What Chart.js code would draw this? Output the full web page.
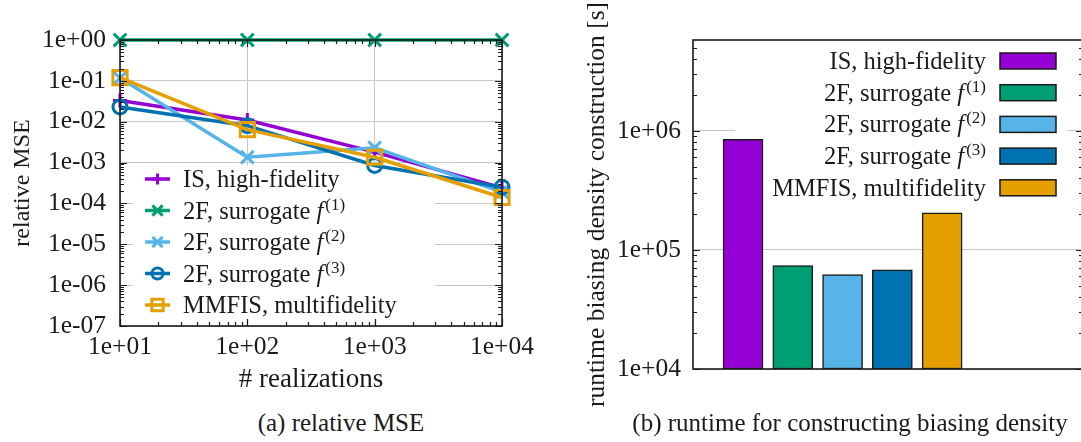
<!DOCTYPE html>
<html>
<head>
<meta charset="utf-8">
<script src="https://cdn.jsdelivr.net/npm/chart.js@4.4.0/dist/chart.umd.min.js"></script>
<style>
  html, body { margin: 0; padding: 0; background: #fff; overflow: hidden; }
  body { width: 1081px; height: 442px; position: relative; font-family: "Liberation Serif", serif; }
  #left { position: absolute; left: 0; top: 0; }
  #right { position: absolute; left: 540px; top: 0; }
  .caption { position: absolute; top: 408px; font-size: 25px; line-height: 30px; color: #1a1a1a; white-space: nowrap; transform: translateX(-50%); }
</style>
</head>
<body>
<canvas id="left" width="540" height="400"></canvas>
<canvas id="right" width="560" height="442"></canvas>
<div class="caption" style="left:341px">(a) relative MSE</div>
<div class="caption" style="left:850px">(b) runtime for constructing biasing density</div>
<script>
// series shared by both panels
var seriesNames = ['IS, high-fidelity', '2F, surrogate f^(1)', '2F, surrogate f^(2)', '2F, surrogate f^(3)', 'MMFIS, multifidelity'];
var seriesColors = ['#9400d3', '#009e73', '#56b4e9', '#0072b2', '#e69f00'];

// (a) relative MSE vs # realizations
var realizations = [10, 100, 1000, 10000];
var mseIS = [3.3e-2, 1.1e-2, 1.8e-3, 2.4e-4];
var mseF1 = [1, 1, 1, 1];
var mseF2 = [1.17e-1, 1.35e-3, 2.3e-3, 1.9e-4];
var mseF3 = [2.3e-2, 8.0e-3, 8.5e-4, 2.5e-4];
var mseMM = [1.2e-1, 6.4e-3, 1.35e-3, 1.4e-4];
var realTicks = [10, 100, 1000, 10000];
var realTickLabels = ['1e+01', '1e+02', '1e+03', '1e+04'];
var mseTicks = [1e-7, 1e-6, 1e-5, 1e-4, 1e-3, 1e-2, 1e-1, 1];
var mseTickLabels = ['1e-07', '1e-06', '1e-05', '1e-04', '1e-03', '1e-02', '1e-01', '1e+00'];

// (b) runtime for biasing density construction [s]
var barSlots = [0, 1, 2, 3, 4];
var runtime = [8.5e5, 7.4e4, 6.2e4, 6.8e4, 2.05e5];
var runtimeTicks = [1e4, 1e5, 1e6];
var runtimeTickLabels = ['1e+04', '1e+05', '1e+06'];

var FONT = '"Liberation Serif", serif';
var INK = '#1a1a1a';
Chart.defaults.font.family = FONT;
Chart.defaults.font.size = 24;
Chart.defaults.color = INK;

var markerStyles = ['cross', 'crossRot', 'crossRot', 'circle', 'rect'];
var markerRadii = [7, 9, 9, 7, 10];

function isPow10(v) {
  var l = Math.log10(v);
  return Math.abs(l - Math.round(l)) < 1e-9;
}

function logSteps(min, max) {
  var out = [];
  var e0 = Math.floor(Math.log10(min) + 1e-9), e1 = Math.ceil(Math.log10(max) - 1e-9);
  for (var e = e0; e <= e1; e++) {
    for (var s = 1; s < 10; s++) {
      var v = s * Math.pow(10, e);
      if (v >= min * (1 - 1e-9) && v <= max * (1 + 1e-9)) out.push({ v: v, major: s === 1 });
    }
  }
  return out;
}

function drawMarker(ctx, style, x, y, r) {
  var d;
  ctx.beginPath();
  if (style === 'cross') {
    ctx.moveTo(x - r, y); ctx.lineTo(x + r, y);
    ctx.moveTo(x, y - r); ctx.lineTo(x, y + r);
  } else if (style === 'crossRot') {
    d = r * Math.SQRT1_2;
    ctx.moveTo(x - d, y - d); ctx.lineTo(x + d, y + d);
    ctx.moveTo(x - d, y + d); ctx.lineTo(x + d, y - d);
  } else if (style === 'circle') {
    ctx.arc(x, y, r, 0, Math.PI * 2);
  } else if (style === 'rect') {
    d = r * Math.SQRT1_2;
    ctx.rect(x - d, y - d, 2 * d, 2 * d);
  }
  ctx.stroke();
}

// label like "2F, surrogate f^(1)" -> roman text, italic f, raised (1)
function drawLabel(ctx, label, x, y, align) {
  var parts = label.split('^');
  var main = parts[0], ital = '', sup = parts[1] || '';
  if (sup) { ital = main.slice(-1); main = main.slice(0, -1); }
  ctx.font = '24.5px ' + FONT;
  var w1 = ctx.measureText(main).width;
  ctx.font = 'italic 24.5px ' + FONT;
  var w2 = ital ? ctx.measureText(ital).width + 2 : 0;
  ctx.font = '17px ' + FONT;
  var w3 = sup ? ctx.measureText(sup).width : 0;
  var sx = align === 'right' ? x - (w1 + w2 + w3) : x;
  var base = y + 8;
  ctx.fillStyle = INK;
  ctx.textAlign = 'left';
  ctx.textBaseline = 'alphabetic';
  ctx.font = '24.5px ' + FONT;
  ctx.fillText(main, sx, base);
  if (sup) {
    ctx.font = 'italic 24.5px ' + FONT;
    ctx.fillText(ital, sx + w1, base);
    ctx.font = '17px ' + FONT;
    ctx.fillText(sup, sx + w1 + w2, base - 9);
  }
}

// key with opaque white box (box goes under the data, entries on top)
var boxLegend = {
  id: 'boxLegend',
  beforeDatasetsDraw: function (chart, args, o) {
    var ctx = chart.ctx;
    ctx.save();
    ctx.fillStyle = '#fff';
    ctx.fillRect(o.box[0], o.box[1], o.box[2], o.box[3]);
    ctx.restore();
  },
  afterDatasetsDraw: function (chart, args, o) {
    var ctx = chart.ctx;
    ctx.save();
    seriesNames.forEach(function (name, i) {
      var y = o.top + i * o.step;
      if (o.kind === 'line') {
        ctx.strokeStyle = seriesColors[i];
        ctx.lineWidth = 3.5;
        ctx.beginPath();
        ctx.moveTo(o.lineX0, y); ctx.lineTo(o.lineX1, y);
        ctx.stroke();
        ctx.lineWidth = 3;
        drawMarker(ctx, markerStyles[i], (o.lineX0 + o.lineX1) / 2, y, markerRadii[i] * 0.8);
        drawLabel(ctx, name, o.textX, y, 'left');
      } else {
        ctx.fillStyle = seriesColors[i];
        ctx.fillRect(o.swatchX, y - o.swatchH / 2, o.swatchW, o.swatchH);
        ctx.strokeStyle = INK;
        ctx.lineWidth = 1.5;
        ctx.strokeRect(o.swatchX, y - o.swatchH / 2, o.swatchW, o.swatchH);
        drawLabel(ctx, name, o.textX, y, 'right');
      }
    });
    ctx.restore();
  }
};

// gnuplot style border with inward major/minor ticks
var frameTicks = {
  id: 'frameTicks',
  afterDatasetsDraw: function (chart, args, o) {
    var ctx = chart.ctx, a = chart.chartArea;
    ctx.save();
    ctx.strokeStyle = INK;
    ctx.lineWidth = 1.2;
    ctx.beginPath();
    if (o.y) {
      var ys = chart.scales.y;
      logSteps(ys.min, ys.max).forEach(function (t) {
        var py = Math.round(ys.getPixelForValue(t.v)) + 0.5;
        var len = t.major ? 7 : 4;
        ctx.moveTo(a.left, py); ctx.lineTo(a.left + len, py);
        ctx.moveTo(a.right, py); ctx.lineTo(a.right - len, py);
      });
    }
    if (o.x) {
      var xs = chart.scales.x;
      logSteps(xs.min, xs.max).forEach(function (t) {
        var px = Math.round(xs.getPixelForValue(t.v)) + 0.5;
        var len = t.major ? 7 : 4;
        ctx.moveTo(px, a.bottom); ctx.lineTo(px, a.bottom - len);
        ctx.moveTo(px, a.top); ctx.lineTo(px, a.top + len);
      });
    }
    ctx.stroke();
    ctx.lineWidth = 1.6;
    ctx.strokeRect(a.left, a.top, a.width, a.height);
    ctx.restore();
  }
};

var gridColor = function (c) {
  return c.tick && isPow10(c.tick.value) ? '#c8c8c8' : 'rgba(0,0,0,0)';
};

var mseSeries = [mseIS, mseF1, mseF2, mseF3, mseMM];

var leftChart = new Chart(document.getElementById('left'), {
  type: 'line',
  data: {
    datasets: mseSeries.map(function (vals, i) {
      return {
        label: seriesNames[i],
        data: realizations.map(function (x, j) { return { x: x, y: vals[j] }; }),
        borderColor: seriesColors[i],
        backgroundColor: 'rgba(0,0,0,0)',
        borderWidth: 3.5,
        pointStyle: markerStyles[i],
        pointRadius: markerRadii[i],
        pointBorderWidth: 3,
        pointBorderColor: seriesColors[i],
        pointBackgroundColor: 'rgba(0,0,0,0)',
        clip: false,
        order: mseSeries.length - i
      };
    })
  },
  options: {
    responsive: false,
    animation: false,
    layout: { padding: { top: 40, right: 32, left: 0, bottom: 0 } },
    plugins: {
      legend: { display: false },
      tooltip: { enabled: false },
      boxLegend: { kind: 'line', box: [133, 166, 302, 156], top: 179, step: 31.5, lineX0: 145, lineX1: 170, textX: 183 },
      frameTicks: { x: true, y: true }
    },
    scales: {
      x: {
        type: 'logarithmic', min: 10, max: 10000,
        afterBuildTicks: function (s) { s.ticks = realTicks.map(function (v) { return { value: v }; }); },
        afterFit: function (s) { s.height = 74; },
        ticks: { autoSkip: false, maxRotation: 0, padding: 6, font: { size: 25.5 }, callback: function (v, i) { return realTickLabels[i]; } },
        grid: { color: gridColor, lineWidth: 1, drawTicks: false },
        border: { display: false },
        title: { display: true, text: '# realizations', font: { size: 27 }, padding: { top: 0, bottom: 4 } }
      },
      y: {
        type: 'logarithmic', min: 1e-7, max: 1,
        afterBuildTicks: function (s) { s.ticks = mseTicks.map(function (v) { return { value: v }; }); },
        afterFit: function (s) { s.width = 120; },
        ticks: { autoSkip: false, padding: 14, font: { size: 25.5 }, callback: function (v, i) { return mseTickLabels[i]; } },
        grid: { color: gridColor, lineWidth: 1, drawTicks: false },
        border: { display: false },
        title: { display: true, text: 'relative MSE', padding: { top: 8, bottom: 0 } }
      }
    }
  },
  plugins: [boxLegend, frameTicks]
});

var rightChart = new Chart(document.getElementById('right'), {
  type: 'bar',
  data: {
    datasets: [{
      label: 'runtime',
      data: barSlots.map(function (s, i) { return { x: s, y: runtime[i] }; }),
      backgroundColor: seriesColors,
      borderColor: INK,
      borderWidth: 1.5,
      borderSkipped: false,
      barThickness: 40,
      grouped: false
    }]
  },
  options: {
    responsive: false,
    animation: false,
    layout: { padding: { top: 40, right: 17, left: 0, bottom: 73 } },
    plugins: {
      legend: { display: false },
      tooltip: { enabled: false },
      boxLegend: { kind: 'bar', box: [195, 45, 332, 160], top: 61, step: 31.7, textX: 446, swatchX: 460, swatchW: 56, swatchH: 16 },
      frameTicks: { x: false, y: true }
    },
    scales: {
      x: { type: 'linear', min: -1.005, max: 6.83, offset: false, display: false },
      y: {
        type: 'logarithmic', min: 1e4, max: 5.8e6,
        afterBuildTicks: function (s) { s.ticks = runtimeTicks.map(function (v) { return { value: v }; }); },
        afterFit: function (s) { s.width = 153; },
        ticks: { autoSkip: false, padding: 12, font: { size: 25.5 }, callback: function (v, i) { return runtimeTickLabels[i]; } },
        grid: { color: gridColor, lineWidth: 1, drawTicks: false },
        border: { display: false },
        title: { display: true, text: 'runtime biasing density construction [s]', font: { size: 25.5 }, padding: { top: 42, bottom: 0 } }
      }
    }
  },
  plugins: [boxLegend, frameTicks]
});
</script>
</body>
</html>
